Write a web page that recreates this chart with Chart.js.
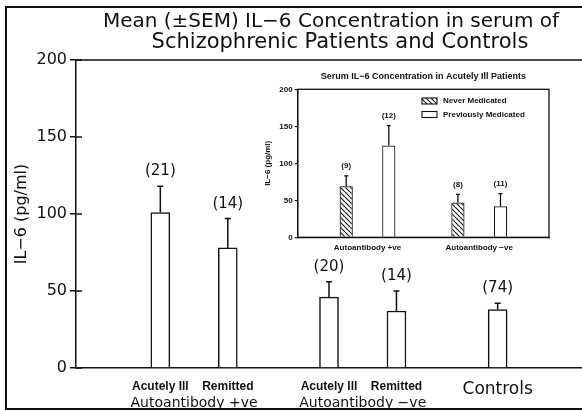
<!DOCTYPE html>
<html>
<head>
<meta charset="utf-8">
<script src="https://cdn.jsdelivr.net/npm/chart.js@4.4.1/dist/chart.umd.min.js"></script>
<style>
  html, body { margin: 0; padding: 0; background: #fff; }
  #wrap { position: relative; width: 582px; height: 410px; background: #fff; }
  #main { position: absolute; left: 0; top: 0; }
  #inset { position: absolute; left: 250px; top: 62px; }
</style>
</head>
<body>
<div id="wrap">
  <canvas id="main" width="582" height="410"></canvas>
  <canvas id="inset" width="310" height="198"></canvas>
</div>
<script>
// main chart data (blank categories are spacing slots)
var mainCategories = ['', '', 'Acutely Ill', '', 'Remitted', '', '', 'Acutely Ill', '', 'Remitted', '', '', 'Controls', '', ''];
var mainGroups = ['', '', '', 'Autoantibody +ve', '', '', '', '', 'Autoantibody \u2212ve', '', '', '', '', '', ''];
var mainMean = [null, null, 101, null, 78, null, null, 46, null, 37, null, null, 38, null, null];
var mainSem = [null, null, 17, null, 19, null, null, 10, null, 13, null, null, 4, null, null];
var mainN = [null, null, 21, null, 14, null, null, 20, null, 14, null, null, 74, null, null];
var mainTicks = [0, 50, 100, 150, 200];
var mainTitle = ['Mean (\u00b1SEM) IL\u22126 Concentration in serum of', 'Schizophrenic Patients and Controls'];

// inset data
var insetCategories = ['', '', 'Autoantibody +ve', '', '', '', 'Autoantibody \u2212ve', '', ''];
var neverMean = [null, null, 69, null, null, null, 47, null, null];
var neverSem = [null, null, 14, null, null, null, 11, null, null];
var neverN = [null, null, 9, null, null, null, 8, null, null];
var prevMean = [null, null, 124, null, null, null, 42, null, null];
var prevSem = [null, null, 27, null, null, null, 17, null, null];
var prevN = [null, null, 12, null, null, null, 11, null, null];
var insetTicks = [0, 50, 100, 150, 200];

var INK = '#111';

function byId(id) { return document.getElementById(id); }

function makeHatch() {
    var c = document.createElement('canvas');
    c.width = 5; c.height = 5;
    var g = c.getContext('2d');
    g.fillStyle = '#fff';
    g.fillRect(0, 0, 5, 5);
    g.strokeStyle = INK;
    g.lineWidth = 1.1;
    [-5, 0, 5].forEach(function(k){
        g.beginPath();
        g.moveTo(k, 0);
        g.lineTo(k + 5, 5);
        g.stroke();
    });
    return g.createPattern(c, 'repeat');
}

// error bars (upper half only) and n labels above them
function drawErrors(chart, semLists, nLists, o) {
    var ctx = chart.ctx;
    var ys = chart.scales.y;
    ctx.save();
    ctx.strokeStyle = INK;
    ctx.fillStyle = INK;
    ctx.lineWidth = o.lw;
    ctx.font = o.font;
    ctx.textAlign = 'center';
    ctx.textBaseline = 'middle';
    chart.data.datasets.forEach(function(ds, d){
        var meta = chart.getDatasetMeta(d);
        ds.data.forEach(function(v, i){
            if (v === null) return;
            var x = meta.data[i].x;
            var y0 = ys.getPixelForValue(v);
            var y1 = ys.getPixelForValue(v + semLists[d][i]);
            ctx.beginPath();
            ctx.moveTo(x, y0);
            ctx.lineTo(x, y1);
            ctx.moveTo(x - o.cap, y1);
            ctx.lineTo(x + o.cap, y1);
            ctx.stroke();
            ctx.fillText('(' + nLists[d][i] + ')', x, y1 - o.gap);
        });
    });
    ctx.restore();
}

var mainDecor = {
    id: 'mainDecor',
    beforeDraw: function(chart){
        var ctx = chart.ctx;
        ctx.save();
        ctx.fillStyle = '#fff';
        ctx.fillRect(0, 0, chart.width, chart.height);
        ctx.restore();
    },
    afterDraw: function(chart){
        var ctx = chart.ctx, a = chart.chartArea, ys = chart.scales.y;
        ctx.save();
        ctx.strokeStyle = INK;
        // scan frame
        ctx.lineWidth = 2;
        ctx.beginPath();
        ctx.moveTo(6, 410); ctx.lineTo(6, 7); ctx.lineTo(582, 7);
        ctx.moveTo(6, 409); ctx.lineTo(582, 409);
        ctx.stroke();
        // top border of plot
        ctx.lineWidth = 1.5;
        ctx.beginPath();
        ctx.moveTo(a.left, a.top); ctx.lineTo(a.right, a.top);
        ctx.stroke();
        // inner half of the y ticks
        ctx.beginPath();
        mainTicks.forEach(function(t){
            var y = ys.getPixelForValue(t);
            ctx.moveTo(a.left, y); ctx.lineTo(a.left + 6, y);
        });
        ctx.stroke();
        // title
        ctx.fillStyle = INK;
        ctx.textAlign = 'center';
        ctx.textBaseline = 'alphabetic';
        ctx.font = '20px "DejaVu Sans"';
        ctx.fillText(mainTitle[0], 331, 27);
        ctx.font = '21px "DejaVu Sans"';
        ctx.fillText(mainTitle[1], 340, 47.5);
        ctx.restore();
        drawErrors(chart, [mainSem], [mainN], {lw: 1.5, cap: 3, gap: 15, font: '15px "DejaVu Sans"'});
    }
};

var insetDecor = {
    id: 'insetDecor',
    afterDraw: function(chart){
        var ctx = chart.ctx, a = chart.chartArea;
        ctx.save();
        ctx.strokeStyle = INK;
        ctx.lineWidth = 1.3;
        ctx.strokeRect(a.left, a.top, a.right - a.left, a.bottom - a.top);
        // legend inside the plot box
        ctx.font = 'bold 8px "Liberation Sans"';
        ctx.textBaseline = 'middle';
        ctx.textAlign = 'left';
        ctx.lineWidth = 1.1;
        chart.data.datasets.forEach(function(ds, d){
            var y = 39 + d * 13.5;
            ctx.fillStyle = ds.backgroundColor;
            ctx.fillRect(172, y - 3, 15, 6);
            ctx.strokeRect(172, y - 3, 15, 6);
            ctx.fillStyle = INK;
            ctx.fillText(ds.label, 193, y);
        });
        ctx.restore();
        drawErrors(chart, [neverSem, prevSem], [neverN, prevN], {lw: 1.3, cap: 2, gap: 10, font: 'bold 8px "Liberation Sans"'});
    }
};

function mainTickFont(c) {
    var i = c.index;
    if (mainGroups[i]) return {family: 'DejaVu Sans', size: 14, lineHeight: 1.15};
    if (mainCategories[i] === 'Controls') return {family: 'DejaVu Sans', size: 17};
    return {family: 'Liberation Sans', size: 12, weight: 'bold'};
}

function creatMainChart(){
    var labels = mainCategories.map(function(c, i){
        return mainGroups[i] ? ['', mainGroups[i]] : c;
    });
    new Chart(byId('main').getContext('2d'), {
        type: 'bar',
        data: {
            labels: labels,
            datasets: [{
                data: mainMean,
                backgroundColor: '#fff',
                borderColor: INK,
                borderWidth: 1.5,
                barThickness: 19
            }]
        },
        options: {
            responsive: false,
            animation: false,
            layout: {padding: {top: 60, right: 0, left: 0, bottom: 0}},
            plugins: {legend: {display: false}, tooltip: {enabled: false}},
            scales: {
                x: {
                    type: 'category',
                    grid: {display: false, drawTicks: false, tickLength: 0},
                    border: {display: true, color: INK, width: 1.5},
                    ticks: {autoSkip: false, maxRotation: 0, padding: 11, color: INK, font: mainTickFont},
                    afterFit: function(s){ s.height = 42; }
                },
                y: {
                    min: 0, max: 200,
                    afterBuildTicks: function(s){ s.ticks = mainTicks.map(function(v){ return {value: v}; }); },
                    grid: {display: true, drawOnChartArea: false, drawTicks: true, tickLength: 6, color: INK, lineWidth: 1.5},
                    border: {display: true, color: INK, width: 1.5},
                    ticks: {color: INK, padding: 3, font: {family: 'DejaVu Sans', size: 16}},
                    title: {display: true, text: 'IL\u22126 (pg/ml)', color: INK,
                            font: {family: 'DejaVu Sans', size: 16}, padding: {top: 12, bottom: 0}},
                    afterFit: function(s){ s.width = 76; }
                }
            }
        },
        plugins: [mainDecor]
    });
}

function creatInsetChart(){
    var hatch = makeHatch();
    var barOpts = {borderColor: INK, borderWidth: 1.2, categoryPercentage: 3.05, barPercentage: 0.31};
    new Chart(byId('inset').getContext('2d'), {
        type: 'bar',
        data: {
            labels: insetCategories,
            datasets: [
                Object.assign({label: 'Never Medicated', data: neverMean, backgroundColor: hatch}, barOpts),
                Object.assign({label: 'Previously Medicated', data: prevMean, backgroundColor: '#fff'}, barOpts)
            ]
        },
        options: {
            responsive: false,
            animation: false,
            layout: {padding: {top: 0, right: 11, left: 0, bottom: 0}},
            plugins: {
                legend: {display: false},
                tooltip: {enabled: false},
                title: {
                    display: true, fullSize: false,
                    text: 'Serum IL\u22126 Concentration in Acutely Ill Patients',
                    color: INK, font: {family: 'Liberation Sans', size: 9, weight: 'bold'},
                    padding: {top: 9.6, bottom: 6.9}
                }
            },
            scales: {
                x: {
                    type: 'category',
                    grid: {display: false, drawTicks: false, tickLength: 0},
                    border: {display: true, color: INK, width: 1.3},
                    ticks: {autoSkip: false, maxRotation: 0, padding: 6, color: INK,
                            font: {family: 'Liberation Sans', size: 8, weight: 'bold'}},
                    afterFit: function(s){ s.height = 22.7; }
                },
                y: {
                    min: 0, max: 200,
                    afterBuildTicks: function(s){ s.ticks = insetTicks.map(function(v){ return {value: v}; }); },
                    grid: {display: true, drawOnChartArea: false, drawTicks: true, tickLength: 3, color: INK, lineWidth: 1.2},
                    border: {display: true, color: INK, width: 1.3},
                    ticks: {color: INK, padding: 2, font: {family: 'Liberation Sans', size: 8, weight: 'bold'}},
                    title: {display: true, text: 'IL\u22126 (pg/ml)', color: INK,
                            font: {family: 'Liberation Sans', size: 8, weight: 'bold'}, padding: {top: 13.2, bottom: 0}},
                    afterFit: function(s){ s.width = 47.7; }
                }
            }
        },
        plugins: [insetDecor]
    });
}

creatMainChart();
creatInsetChart();
</script>
</body>
</html>
